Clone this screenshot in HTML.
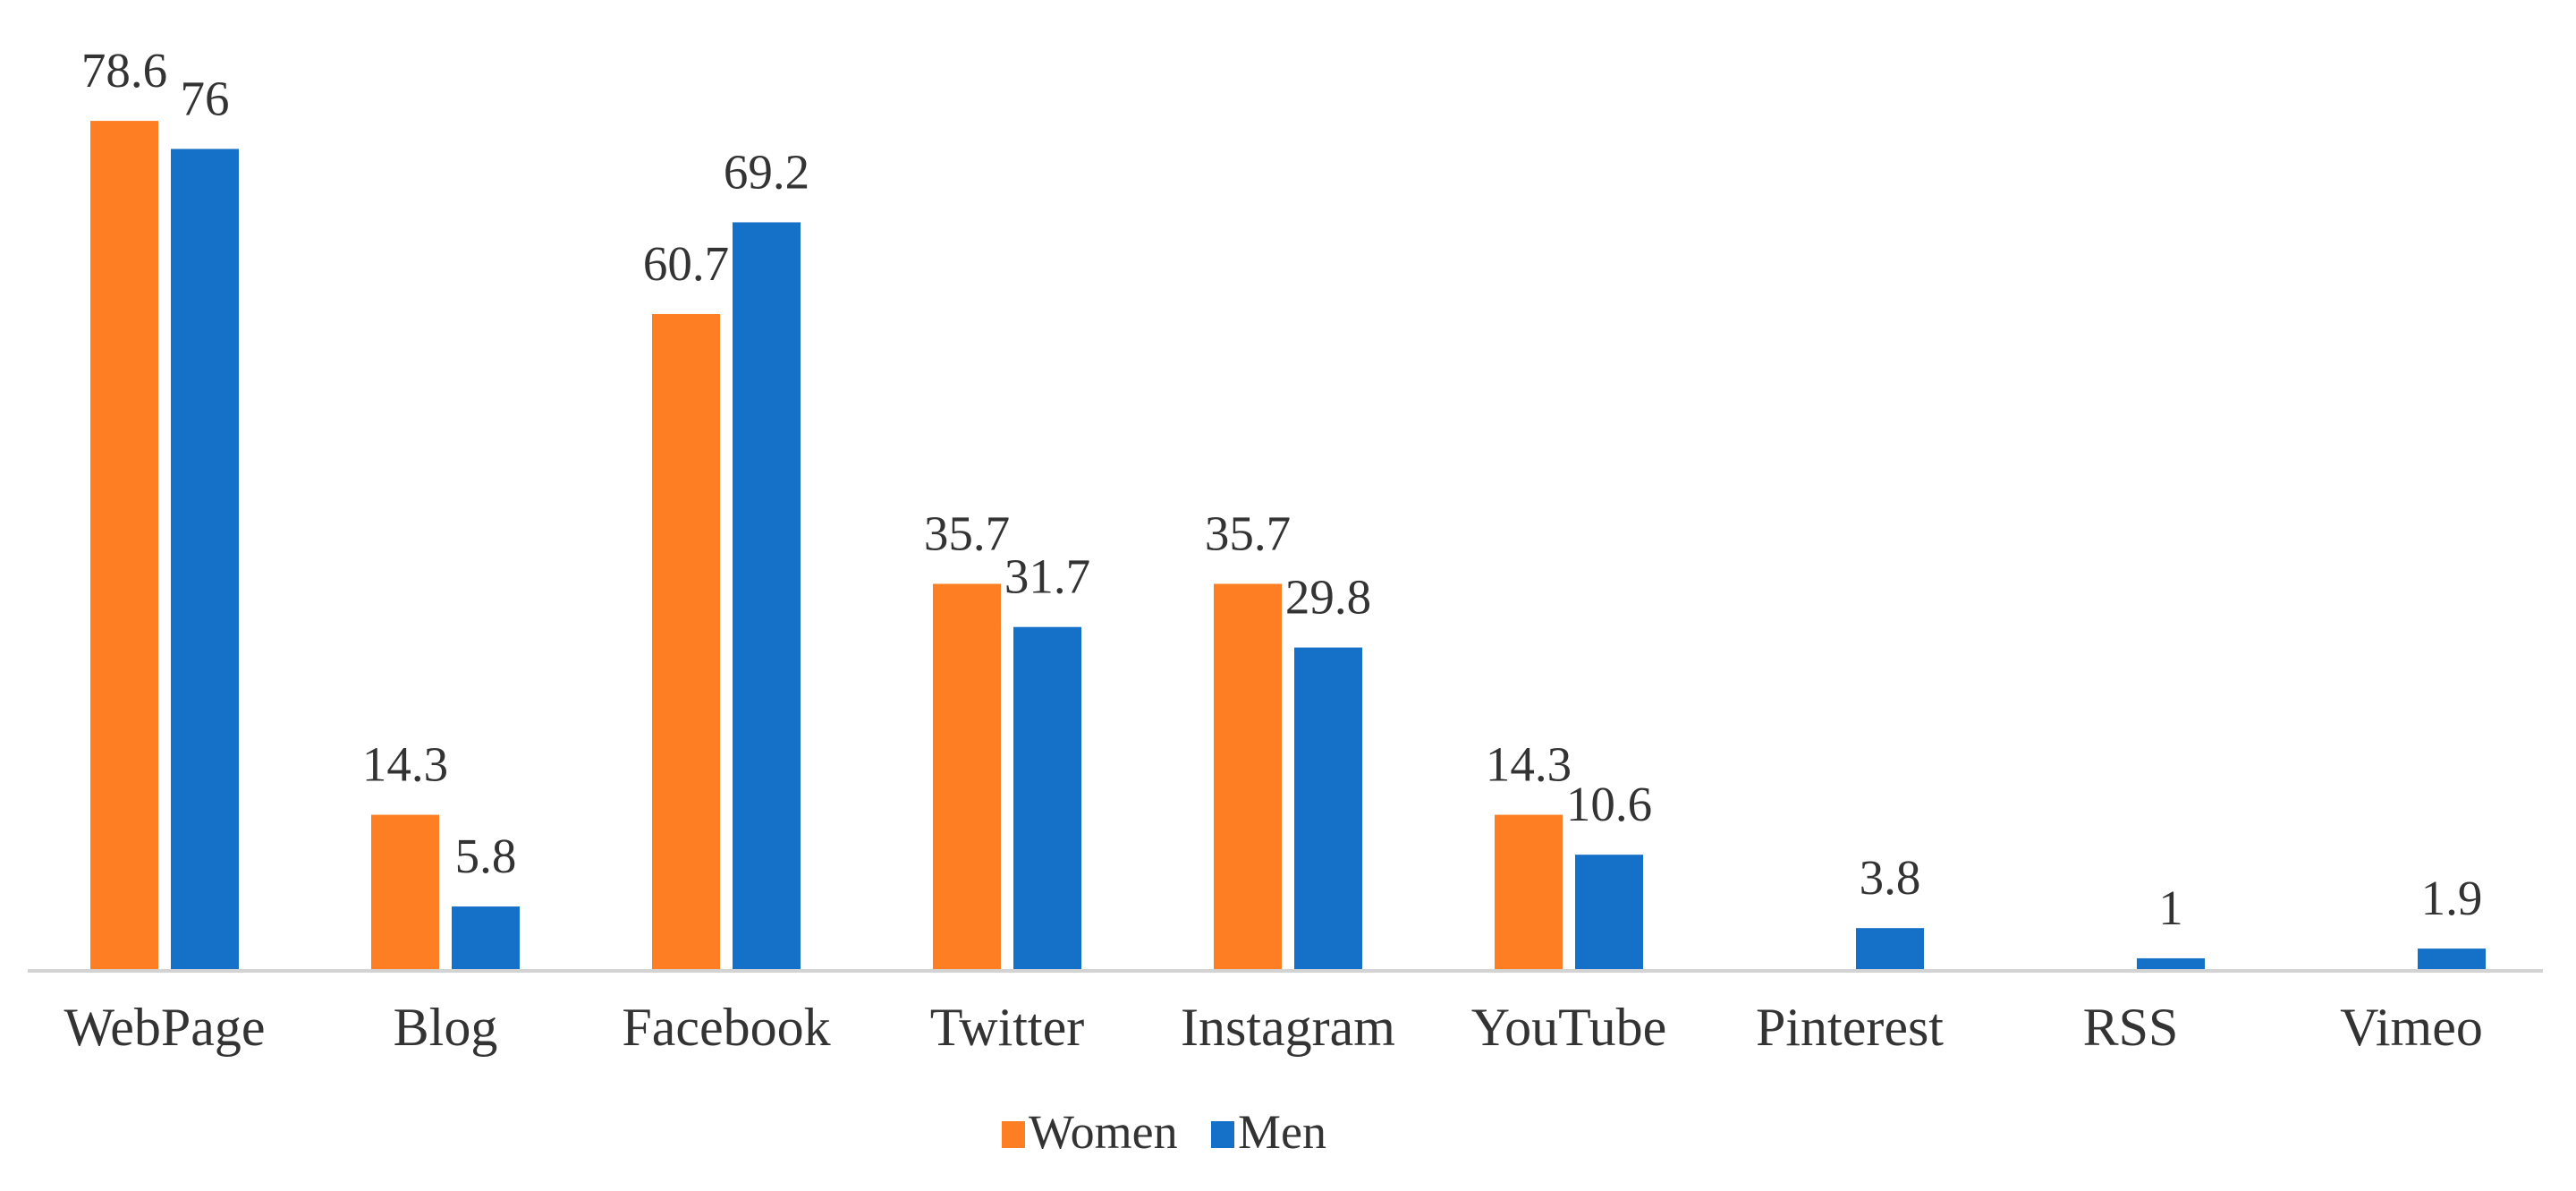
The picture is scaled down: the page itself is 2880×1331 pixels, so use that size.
<!DOCTYPE html>
<html><head><meta charset="utf-8"><style>
html,body{margin:0;padding:0;background:#fff;}
svg{display:block;}
text{font-family:"Liberation Serif",serif;fill:#333;}
</style></head><body>
<svg id="chart" width="2880" height="1331" viewBox="0 0 2880 1331" xmlns="http://www.w3.org/2000/svg">
<line x1="31" y1="1085" x2="2843" y2="1085" stroke="#d3d3d3" stroke-width="4"/>
<g id="bars"></g>
<g id="labels"></g>
<g>
<rect x="1120" y="1253" width="26" height="30" fill="#FD7E23"/>
<text x="1150" y="1283" font-size="54">Women</text>
<rect x="1354" y="1253" width="26" height="30" fill="#1570C8"/>
<text x="1384" y="1283" font-size="54">Men</text>
</g>
</svg>
<script>
const categories = ["WebPage","Blog","Facebook","Twitter","Instagram","YouTube","Pinterest","RSS","Vimeo"];
const women = [78.6,14.3,60.7,35.7,35.7,14.3,null,null,null];
const men = [76,5.8,69.2,31.7,29.8,10.6,3.8,1,1.9];

const baseY = 1083, pxPerUnit = 12.06;
const x0 = 184, step = 314, barW = 76, gap = 14;
function yScale(v){ return baseY - v*pxPerUnit; }
function xCenter(i){ return x0 + step*i; }
const NS = "http://www.w3.org/2000/svg";
const bars = document.getElementById('bars');
const labels = document.getElementById('labels');
function addBar(i, v, series, color, offset){
  if (v === null || v === undefined) return;
  const r = document.createElementNS(NS,'rect');
  const x = xCenter(i) + offset;
  r.setAttribute('x', x);
  r.setAttribute('y', yScale(v));
  r.setAttribute('width', barW);
  r.setAttribute('height', baseY - yScale(v));
  r.setAttribute('fill', color);
  
  
  bars.appendChild(r);
  const t = document.createElementNS(NS,'text');
  t.setAttribute('x', x + barW/2);
  t.setAttribute('y', yScale(v) - 38);
  t.setAttribute('font-size', '55');
  t.setAttribute('text-anchor', 'middle');
  t.textContent = String(v);
  
  
  labels.appendChild(t);
}
categories.forEach((c,i)=>{
  addBar(i, women[i], 'women', '#FD7E23', -gap/2 - barW);
  addBar(i, men[i], 'men', '#1570C8', gap/2);
  const t = document.createElementNS(NS,'text');
  t.setAttribute('x', xCenter(i));
  t.setAttribute('y', 1168);
  t.setAttribute('font-size', '60');
  t.setAttribute('text-anchor', 'middle');
  t.textContent = c;
  
  
  labels.appendChild(t);
});
</script>
</body></html>
